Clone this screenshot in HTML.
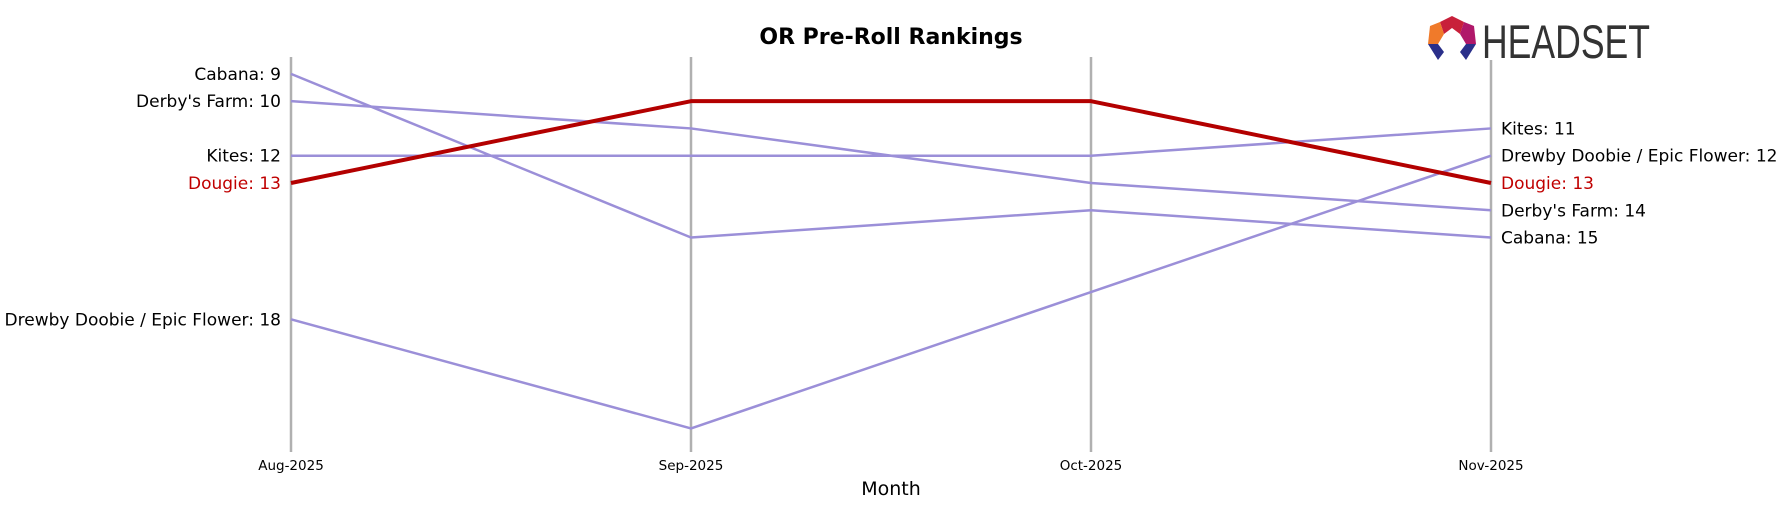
<!DOCTYPE html>
<html><head><meta charset="utf-8"><style>
body{margin:0;background:#fff}
svg text{font-family:"DejaVu Sans","Liberation Sans",sans-serif}
</style></head><body>
<svg id="chart" width="1782" height="507" viewBox="0 0 1782 507" xmlns="http://www.w3.org/2000/svg">
<text x="891" y="44" text-anchor="middle" font-size="22" font-weight="bold">OR Pre-Roll Rankings</text>
<g>
<polygon points="1440,22 1452,16 1464,22 1460,34 1452,28 1444,34" fill="#c8203a"/>
<polygon points="1430,26 1440,22 1444,34 1438,44 1428,44" fill="#f07a2a"/>
<polygon points="1464,22 1474,26 1476,44 1466,44 1460,34" fill="#b0186a"/>
<polygon points="1428,44 1438,44 1444,52 1438,60" fill="#2a2f8a"/>
<polygon points="1466,44 1476,44 1466,60 1460,52" fill="#2a2f8a"/>
<text x="1482" y="58" font-size="47" fill="#333" textLength="168" lengthAdjust="spacingAndGlyphs" style="font-family:'Liberation Sans Narrow','Liberation Sans',sans-serif">HEADSET</text>
</g>
<g id="grid"></g>
<g id="lines"></g>
<g id="labels"></g>
<text x="891" y="495" text-anchor="middle" font-size="19">Month</text>
</svg>
<script>
const months=["Aug-2025","Sep-2025","Oct-2025","Nov-2025"];
const brands=["Cabana","Derby's Farm","Kites","Dougie","Drewby Doobie / Epic Flower"];
const cabana=[9,15,14,15];
const derby=[10,11,13,14];
const kites=[12,12,12,11];
const dougie=[13,10,10,13];
const drewby=[18,22,17,12];
const series=[cabana,derby,kites,dougie,drewby];
const highlight="Dougie";
const NS="http://www.w3.org/2000/svg";
const x=i=>291+i*400;
const y=r=>73.9+(r-9)*27.27;
const grid=document.getElementById('grid'),lines=document.getElementById('lines'),labels=document.getElementById('labels');
function mk(tag,attrs,parent){const e=document.createElementNS(NS,tag);for(const k in attrs)e.setAttribute(k,attrs[k]);parent.appendChild(e);return e;}
months.forEach((m,i)=>{
 const l=mk('line',{x1:x(i),x2:x(i),y1:i==3?60:57,y2:452,stroke:'#b0b0b0','stroke-width':2.5},grid);
 
 
 const t=mk('text',{x:x(i),y:470,'text-anchor':'middle','font-size':13.5},grid);
 
 
 t.textContent=m;
});
const order=[0,1,2,4,3];
order.forEach(si=>{
 const d=series[si],hl=brands[si]===highlight;
 const p=mk('polyline',{points:d.map((v,i)=>x(i)+','+y(v)).join(' '),fill:'none',stroke:hl?'#b30000':'#9b8fd8','stroke-width':hl?4:2.5,'stroke-linejoin':'round'},lines);
 
 
 const a=mk('text',{x:x(0)-10,y:y(d[0])+6,'text-anchor':'end','font-size':17,fill:hl?'#c00000':'#000'},labels);
 
 
 a.textContent=brands[si]+': '+d[0];
 const b=mk('text',{x:x(3)+10,y:y(d[3])+6,'text-anchor':'start','font-size':17,fill:hl?'#c00000':'#000'},labels);
 
 
 b.textContent=brands[si]+': '+d[3];
});
</script>
</body></html>
